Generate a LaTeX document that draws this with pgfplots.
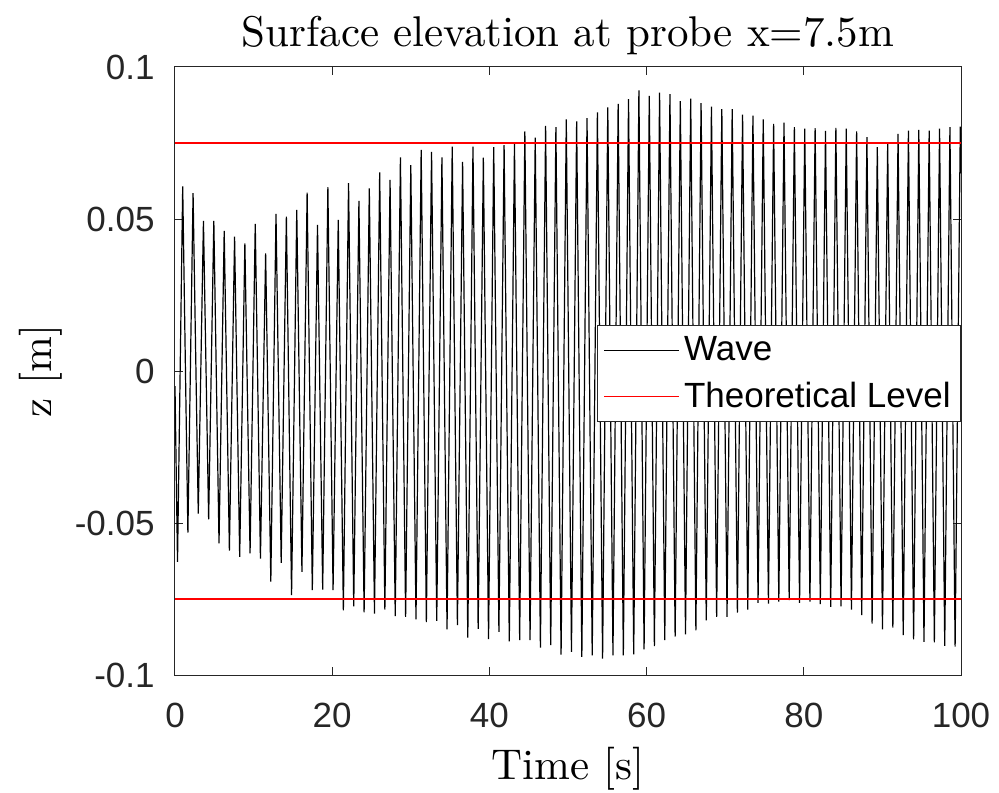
\documentclass[border=0pt]{standalone}
\usepackage{fontspec}
\usepackage{pgfplots}
\pgfplotsset{compat=1.18}
\newfontfamily\arialfont{Liberation Sans}
\newfontfamily\cmten[Extension=.otf]{lmroman10-regular}
\definecolor{axgray}{gray}{0.15}
\newcommand{\tickfont}{\arialfont\fontsize{17.5}{21}\selectfont}
\newcommand{\texfont}{\cmten\fontsize{21.5}{25}\selectfont}

\begin{document}
\begin{tikzpicture}
\begin{axis}[
    scale only axis,
    width=393pt, height=304pt,
    xmin=0, xmax=100, ymin=-0.1, ymax=0.1,
    xtick={0,20,40,60,80,100},
    xticklabels={0,20,40,60,80,100},
    ytick={-0.1,-0.05,0,0.05,0.1},
    yticklabels={-0.1,-0.05,0,0.05,0.1},
    tick align=inside,
    major tick length=4pt,
    axis line style={axgray, line width=0.5pt},
    tick style={axgray, line width=0.5pt},
    ticklabel style={font=\tickfont, text=axgray},
    xticklabel style={anchor=base, yshift=-26pt},
    yticklabel style={anchor=east, inner sep=0pt, xshift=-10pt},
    title={Surface elevation at probe x=7.5m},
    title style={font=\texfont, at={(0.5,1)}, anchor=base, yshift=4pt},
    xlabel={Time [s]},
    ylabel={z [m]},
    xlabel style={font=\texfont, at={(0.5,0)}, anchor=base, yshift=-52pt},
    ylabel style={font=\texfont, at={(axis description cs:-0.1705,0.5)}, anchor=center},
    legend style={at={(1,0.5757)}, anchor=north east, font=\tickfont,
        draw=axgray, fill=white, inner xsep=3pt, inner ysep=1pt,
        cells={anchor=west, minimum height=23pt}},
    legend image code/.code={\draw[#1] (0pt,0pt) -- (37.5pt,0pt);},
]
\addplot[black, line width=0.6pt] coordinates {
(0,-0.005)
(0.32,-0.0628) (0.98,0.0607)
(1.64,-0.0532) (2.30,0.0585)
(2.96,-0.0469) (3.62,0.0494)
(4.28,-0.0488) (4.94,0.0494)
(5.60,-0.0567) (6.26,0.0461)
(6.92,-0.0591) (7.58,0.0442)
(8.23,-0.0611) (8.89,0.0420)
(9.55,-0.0600) (10.21,0.0484)
(10.87,-0.0617) (11.53,0.0387)
(12.19,-0.0693) (12.85,0.0517)
(13.51,-0.0631) (14.17,0.0508)
(14.83,-0.0737) (15.49,0.0530)
(16.15,-0.0661) (16.81,0.0587)
(17.47,-0.0721) (18.13,0.0481)
(18.79,-0.0719) (19.45,0.0605)
(20.11,-0.0721) (20.77,0.0497)
(21.42,-0.0787) (22.08,0.0618)
(22.74,-0.0774) (23.40,0.0560)
(24.06,-0.0794) (24.72,0.0601)
(25.38,-0.0798) (26.04,0.0653)
(26.70,-0.0785) (27.36,0.0629)
(28.02,-0.0806) (28.68,0.0703)
(29.34,-0.0809) (30.00,0.0677)
(30.66,-0.0817) (31.32,0.0727)
(31.98,-0.0826) (32.64,0.0721)
(33.30,-0.0822) (33.96,0.0703)
(34.61,-0.0850) (35.27,0.0738)
(35.93,-0.0836) (36.59,0.0688)
(37.25,-0.0877) (37.91,0.0738)
(38.57,-0.0848) (39.23,0.0702)
(39.89,-0.0882) (40.55,0.0736)
(41.21,-0.0858) (41.87,0.0743)
(42.53,-0.0889) (43.19,0.0748)
(43.85,-0.0885) (44.51,0.0788)
(45.17,-0.0885) (45.83,0.0768)
(46.49,-0.0910) (47.15,0.0806)
(47.80,-0.0902) (48.46,0.0802)
(49.12,-0.0933) (49.78,0.0828)
(50.44,-0.0924) (51.10,0.0821)
(51.76,-0.0940) (52.42,0.0832)
(53.08,-0.0935) (53.74,0.0851)
(54.40,-0.0946) (55.06,0.0867)
(55.72,-0.0935) (56.38,0.0879)
(57.04,-0.0935) (57.70,0.0894)
(58.36,-0.0932) (59.02,0.0923)
(59.68,-0.0916) (60.34,0.0905)
(60.99,-0.0905) (61.65,0.0916)
(62.31,-0.0885) (62.97,0.0911)
(63.63,-0.0874) (64.29,0.0888)
(64.95,-0.0866) (65.61,0.0896)
(66.27,-0.0853) (66.93,0.0881)
(67.59,-0.0820) (68.25,0.0870)
(68.91,-0.0809) (69.57,0.0861)
(70.23,-0.0809) (70.89,0.0861)
(71.55,-0.0795) (72.21,0.0843)
(72.87,-0.0785) (73.53,0.0840)
(74.18,-0.0763) (74.84,0.0828)
(75.50,-0.0765) (76.16,0.0813)
(76.82,-0.0759) (77.48,0.0817)
(78.14,-0.0754) (78.80,0.0802)
(79.46,-0.0763) (80.12,0.0797)
(80.78,-0.0759) (81.44,0.0799)
(82.10,-0.0767) (82.76,0.0790)
(83.42,-0.0776) (84.08,0.0800)
(84.74,-0.0774) (85.40,0.0797)
(86.06,-0.0785) (86.72,0.0788)
(87.37,-0.0803) (88.03,0.0769)
(88.69,-0.0831) (89.35,0.0736)
(90.01,-0.0850) (90.67,0.0749)
(91.33,-0.0844) (91.99,0.0780)
(92.65,-0.0869) (93.31,0.0791)
(93.97,-0.0883) (94.63,0.0793)
(95.29,-0.0891) (95.95,0.0791)
(96.61,-0.0893) (97.27,0.0797)
(97.93,-0.0904) (98.59,0.0802)
(99.25,-0.0907) (99.91,0.0804)
(100,0.065)
};
\addlegendentry{Wave}
\addplot[red, line width=0.8pt] coordinates {(0,0.075) (100,0.075)};
\addlegendentry{Theoretical Level}
\addplot[red, line width=0.8pt, forget plot] coordinates {(0,-0.075) (100,-0.075)};
\coordinate (sw) at (rel axis cs:0,0);
\coordinate (ne) at (rel axis cs:1,1);
\end{axis}
\pgfresetboundingbox
\useasboundingbox ([shift={(-87.5pt,-58.5pt)}]sw) rectangle ([shift={(19pt,33.5pt)}]ne);
\end{tikzpicture}
\end{document}
